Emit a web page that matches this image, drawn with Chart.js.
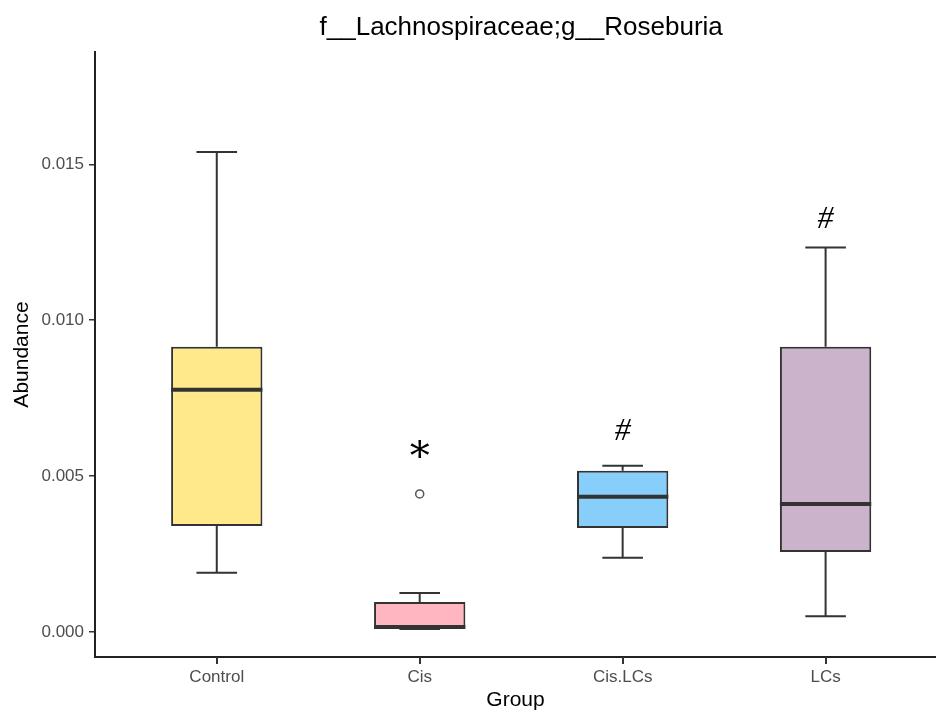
<!DOCTYPE html>
<html><head><meta charset="utf-8">
<script src="https://cdn.jsdelivr.net/npm/chart.js@4.4.1/dist/chart.umd.min.js"></script>
<style>html,body{margin:0;padding:0;background:#fff;} canvas{display:block;}</style>
</head><body>
<canvas id="c" width="936" height="713"></canvas>
<script>
// ---- data ----
const chartTitle = 'f__Lachnospiraceae;g__Roseburia';
const categories = ['Control', 'Cis', 'Cis.LCs', 'LCs'];
const whiskerLow  = [0.00190, 0.00010, 0.00238, 0.00051];
const q1          = [0.00340, 0.00011, 0.00334, 0.00257];
const median      = [0.00777, 0.00016, 0.00434, 0.00411];
const q3          = [0.00915, 0.00096, 0.00517, 0.00915];
const whiskerHigh = [0.01539, 0.00125, 0.00533, 0.01233];
const outlierGroup = [1];
const outlierValue = [0.00443];
const markGroup = [1, 2, 3];
const markText  = ['*', '#', '#'];
const markValue = [0.00588, 0.00649, 0.01330];
const yTickValues = [0, 0.005, 0.010, 0.015];
const yTickLabels = ['0.000', '0.005', '0.010', '0.015'];
const fillColors = ['#FFE98A', '#FFB6C1', '#87CEFA', '#CCB3CC'];

// ---- styling constants ----
const BOX_HALF = 0.225, CAP_HALF = 0.1;
const LINE = '#333333';
const SANS = "'Liberation Sans', Arial, sans-serif";
const MARK_FONT = {'*': "40px 'DejaVu Serif', serif", '#': "italic 32px 'Liberation Serif', serif"};
const X_TICK_LEN = 7;

const whiskerPts = [];
const capPts = [];
const medianPts = [];
categories.forEach((c, i) => {
  whiskerPts.push({x: i, y: whiskerLow[i]}, {x: i, y: q1[i]}, {x: i, y: null});
  whiskerPts.push({x: i, y: q3[i]}, {x: i, y: whiskerHigh[i]}, {x: i, y: null});
  capPts.push({x: i - CAP_HALF, y: whiskerLow[i]}, {x: i + CAP_HALF, y: whiskerLow[i]}, {x: i, y: null});
  capPts.push({x: i - CAP_HALF, y: whiskerHigh[i]}, {x: i + CAP_HALF, y: whiskerHigh[i]}, {x: i, y: null});
  medianPts.push({x: i - BOX_HALF, y: median[i]}, {x: i + BOX_HALF, y: median[i]}, {x: i, y: null});
});

const titlePlugin = {
  id: 'ggTitle',
  afterDraw(chart) {
    const ctx = chart.ctx;
    const xs = chart.scales.x;
    const base = chart.chartArea.bottom;
    ctx.save();
    // category tick marks under the x axis
    ctx.strokeStyle = LINE;
    ctx.lineWidth = 2;
    categories.forEach((c, i) => {
      const px = Math.round(xs.getPixelForValue(i));
      ctx.beginPath();
      ctx.moveTo(px, base);
      ctx.lineTo(px, base + X_TICK_LEN);
      ctx.stroke();
    });
    ctx.font = '26px ' + SANS;
    ctx.fillStyle = '#000';
    ctx.textAlign = 'center';
    ctx.textBaseline = 'alphabetic';
    ctx.fillText(chartTitle, xs.getPixelForValue((categories.length - 1) / 2), 35);
    ctx.restore();
  }
};

const markPlugin = {
  id: 'marks',
  afterDatasetsDraw(chart) {
    const ctx = chart.ctx;
    const xs = chart.scales.x, ys = chart.scales.y;
    ctx.save();
    ctx.fillStyle = '#000';
    ctx.textAlign = 'center';
    ctx.textBaseline = 'alphabetic';
    markGroup.forEach((g, k) => {
      ctx.font = MARK_FONT[markText[k]];
      const m = ctx.measureText(markText[k]);
      const px = xs.getPixelForValue(g);
      const py = ys.getPixelForValue(markValue[k]);
      const off = (m.actualBoundingBoxAscent - m.actualBoundingBoxDescent) / 2;
      ctx.fillText(markText[k], px, py + off);
    });
    ctx.restore();
  }
};

new Chart(document.getElementById('c'), {
  type: 'bar',
  data: {
    datasets: [
      {
        type: 'line', label: 'whiskers', data: whiskerPts, order: 4,
        borderColor: LINE, borderWidth: 2, pointRadius: 0, spanGaps: false, tension: 0
      },
      {
        type: 'line', label: 'caps', data: capPts, order: 4,
        borderColor: LINE, borderWidth: 2, pointRadius: 0, spanGaps: false, tension: 0
      },
      {
        type: 'bar', label: 'box',
        data: categories.map((c, i) => ({x: i, y: [q1[i], q3[i]]})),
        backgroundColor: fillColors, borderColor: LINE, borderWidth: 2,
        borderSkipped: false, barPercentage: BOX_HALF * 2, categoryPercentage: 1, order: 3
      },
      {
        type: 'line', label: 'median', data: medianPts, order: 2,
        borderColor: LINE, borderWidth: 4, pointRadius: 0, spanGaps: false, tension: 0
      },
      {
        type: 'scatter', label: 'outliers', order: 1,
        data: outlierGroup.map((g, k) => ({x: g, y: outlierValue[k]})),
        pointRadius: 4, pointBackgroundColor: '#fff', pointBorderColor: '#555', pointBorderWidth: 1.5
      }
    ]
  },
  options: {
    responsive: false, animation: false, devicePixelRatio: 1,
    layout: {autoPadding: false, padding: {top: 52, left: 0, right: 0, bottom: 0}},
    plugins: {legend: {display: false}, tooltip: {enabled: false}, title: {display: false}},
    scales: {
      x: {
        type: 'linear', min: -0.6, max: 3.544, offset: false,
        afterBuildTicks: s => { s.ticks = categories.map((c, i) => ({value: i})); },
        afterFit: s => { s.height = 56; s.paddingLeft = 0; s.paddingRight = 0; },
        ticks: {
          callback: v => categories[v], color: '#4d4d4d', autoSkip: false, maxRotation: 0,
          font: {family: SANS, size: 17}, padding: 3
        },
        grid: {display: true, offset: false, drawOnChartArea: false, drawTicks: true, tickLength: X_TICK_LEN, color: LINE, lineWidth: 2},
        border: {display: true, color: '#222', width: 2},
        title: {display: true, text: 'Group', color: '#000', font: {family: SANS, size: 21}, padding: {top: 0, bottom: 0}}
      },
      y: {
        type: 'linear', min: -0.0008, max: 0.0186,
        afterBuildTicks: s => { s.ticks = yTickValues.map(v => ({value: v})); },
        afterFit: s => { s.width = 95; },
        ticks: {
          callback: (v, i) => yTickLabels[i], color: '#4d4d4d',
          font: {family: SANS, size: 17}, padding: 5
        },
        grid: {display: true, drawOnChartArea: false, drawTicks: true, tickLength: 6, color: LINE, lineWidth: 1.5},
        border: {display: true, color: '#222', width: 2},
        title: {display: true, text: 'Abundance', color: '#000', font: {family: SANS, size: 21}, padding: {top: 10, bottom: 0}}
      }
    }
  },
  plugins: [titlePlugin, markPlugin]
});
</script></body></html>
